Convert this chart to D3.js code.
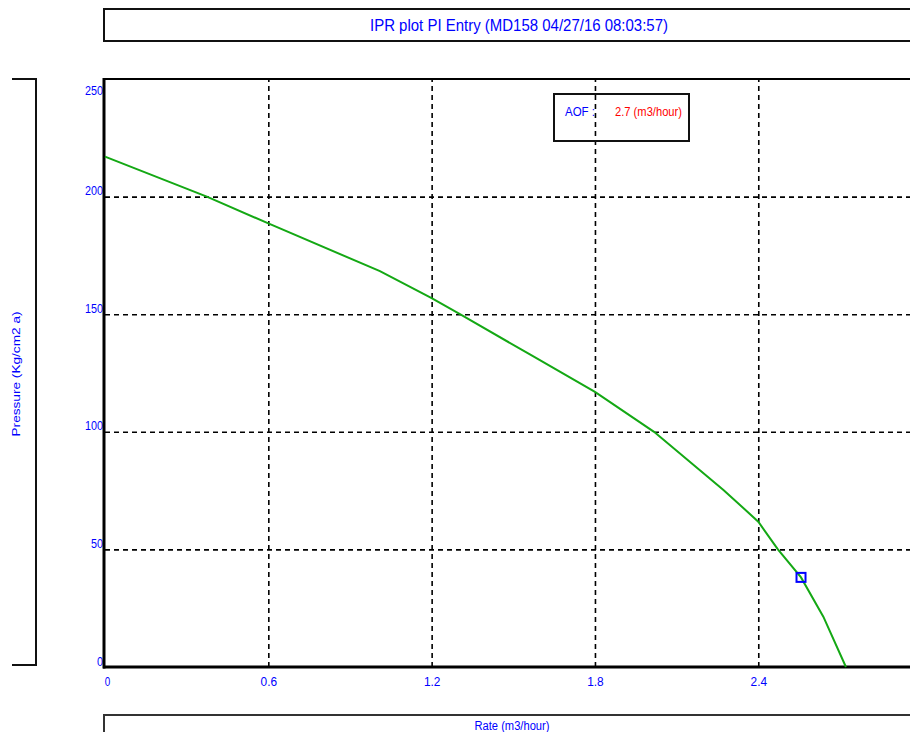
<!DOCTYPE html>
<html><head><meta charset="utf-8">
<script src="https://cdn.jsdelivr.net/npm/d3@7"></script>
<style>
html,body{margin:0;padding:0;background:#fff;overflow:hidden;}
svg{display:block;}
text{font-family:"Liberation Sans",Arial,sans-serif;}
</style></head>
<body>
<script>
// ---- data ----
const rates     = [0, 0.374, 0.6, 1.01, 1.2, 1.304, 1.561, 1.8, 2.017, 2.272, 2.4, 2.472, 2.557, 2.639, 2.722];
const pressures = [217.0, 200, 188.6, 168.3, 156.8, 150, 132.9, 117.0, 100, 75.3, 61.8, 50, 38.1, 21.4, 0];
const testRate = [2.557];
const testPressure = [38.1];
const xTicks = [0, 0.6, 1.2, 1.8, 2.4];
const xTickLabels = ["0", "0.6", "1.2", "1.8", "2.4"];
const yTicks = [0, 50, 100, 150, 200, 250];
const yTickLabels = ["0", "50", "100", "150", "200", "250"];
const titleText = "IPR plot  PI Entry (MD158 04/27/16 08:03:57)";
const xTitle = "Rate  (m3/hour)";
const yTitle = "Pressure    (Kg/cm2 a)";
const aofLabel = "AOF :";
const aofValue = "2.7  (m3/hour)";

const W = 910, H = 732;
const svg = d3.select("body").append("svg").attr("width", W).attr("height", H);

const pL = 105, pT = 79, pB = 667, pR = 105 + 3 * 272.2;
const x = d3.scaleLinear().domain([0, 3]).range([pL, pR]);
const y = d3.scaleLinear().domain([0, 250]).range([pB, pT]);
const blue = "#0000ff";

// title box
svg.append("rect").attr("x", 104).attr("y", 9).attr("width", 830).attr("height", 32)
  .attr("fill", "none").attr("stroke", "#111").attr("stroke-width", 2);
svg.append("text").attr("x", 519).attr("y", 31).attr("text-anchor", "middle")
  .attr("font-size", 17).attr("fill", blue)
  .attr("textLength", 298).attr("lengthAdjust", "spacingAndGlyphs").text(titleText);

// y title bracket
svg.append("path").attr("d", "M12,79H36V665H12").attr("fill", "none")
  .attr("stroke", "#111").attr("stroke-width", 2);
svg.append("text").attr("transform", "translate(20,374) rotate(-90)")
  .attr("text-anchor", "middle").attr("font-size", 11).attr("fill", blue)
  .attr("textLength", 125).attr("lengthAdjust", "spacingAndGlyphs").text(yTitle);

// bottom title box
svg.append("path").attr("d", "M104,740V715H940").attr("fill", "none")
  .attr("stroke", "#333").attr("stroke-width", 2);
svg.append("text").attr("x", 512).attr("y", 730).attr("text-anchor", "middle")
  .attr("font-size", 12).attr("fill", blue)
  .attr("textLength", 75).attr("lengthAdjust", "spacingAndGlyphs").text(xTitle);

// grid via axes
const gx = svg.append("g").attr("transform", `translate(0,${pB})`)
  .call(d3.axisBottom(x).tickValues(xTicks.filter(d => d > 0)).tickSize(-(pB - pT)).tickFormat(""));
gx.select(".domain").remove();
gx.selectAll("line").attr("stroke", "#000").attr("stroke-width", 1.6).attr("stroke-dasharray", "5,4");

const gy = svg.append("g").attr("transform", `translate(${pL},0)`)
  .call(d3.axisLeft(y).tickValues(yTicks.filter(d => d > 0 && d < 250)).tickSize(-(pR - pL)).tickFormat(""));
gy.select(".domain").remove();
gy.selectAll("line").attr("stroke", "#000").attr("stroke-width", 1.6).attr("stroke-dasharray", "5,4");

// AOF box
svg.append("rect").attr("x", 554).attr("y", 94).attr("width", 135).attr("height", 47)
  .attr("fill", "none").attr("stroke", "#111").attr("stroke-width", 2);
svg.append("text").attr("x", 565).attr("y", 116).attr("font-size", 12).attr("fill", blue)
  .attr("textLength", 30).attr("lengthAdjust", "spacingAndGlyphs").text(aofLabel);
svg.append("text").attr("x", 615).attr("y", 116).attr("font-size", 12).attr("fill", "#ff0000")
  .attr("textLength", 67).attr("lengthAdjust", "spacingAndGlyphs").text(aofValue);

// tick labels via axes
const ax = svg.append("g").attr("transform", `translate(0,${pB})`)
  .call(d3.axisBottom(x).tickValues(xTicks).tickSize(0).tickFormat((d, i) => xTickLabels[i]));
ax.select(".domain").remove();
ax.selectAll("text").attr("fill", blue).attr("font-size", 13).attr("dy", null).attr("y", 19)
  .attr("font-family", "Liberation Sans, Arial, sans-serif")
  .attr("textLength", (d, i) => xTickLabels[i].length * 5.5).attr("lengthAdjust", "spacingAndGlyphs")
  .attr("transform", d => d === 0 ? "translate(2,0)" : null);

const ay = svg.append("g").attr("transform", `translate(${pL - 2},0)`)
  .call(d3.axisLeft(y).tickValues(yTicks).tickSize(0).tickFormat((d, i) => yTickLabels[i]));
ay.select(".domain").remove();
ay.selectAll("text").attr("fill", blue).attr("font-size", 13).attr("dy", null).attr("x", 0)
  .attr("font-family", "Liberation Sans, Arial, sans-serif")
  .attr("textLength", (d, i) => yTickLabels[i].length * 6).attr("lengthAdjust", "spacingAndGlyphs")
  .attr("y", d => d === 250 ? 15 : -2);

// frame
svg.append("line").attr("x1", pL - 1).attr("x2", 930).attr("y1", pT).attr("y2", pT)
  .attr("stroke", "#000").attr("stroke-width", 2);
svg.append("line").attr("x1", pL - 1).attr("x2", pL - 1).attr("y1", pT - 1).attr("y2", pB + 1.5)
  .attr("stroke", "#000").attr("stroke-width", 3);
svg.append("line").attr("x1", pL - 2).attr("x2", 930).attr("y1", pB).attr("y2", pB)
  .attr("stroke", "#000").attr("stroke-width", 3);

// IPR curve
const pts = rates.map((r, i) => [r, pressures[i]]);
svg.append("path").datum(pts)
  .attr("d", d3.line().x(d => x(d[0])).y(d => y(d[1])))
  .attr("fill", "none").attr("stroke", "#14a814").attr("stroke-width", 2);

// test point
svg.selectAll("rect.tp").data(testRate.map((r, i) => [r, testPressure[i]])).enter()
  .append("rect").attr("class", "tp")
  .attr("x", d => x(d[0]) - 4.5).attr("y", d => y(d[1]) - 4.5)
  .attr("width", 9).attr("height", 9)
  .attr("fill", "none").attr("stroke", blue).attr("stroke-width", 2);
</script>
</body></html>
